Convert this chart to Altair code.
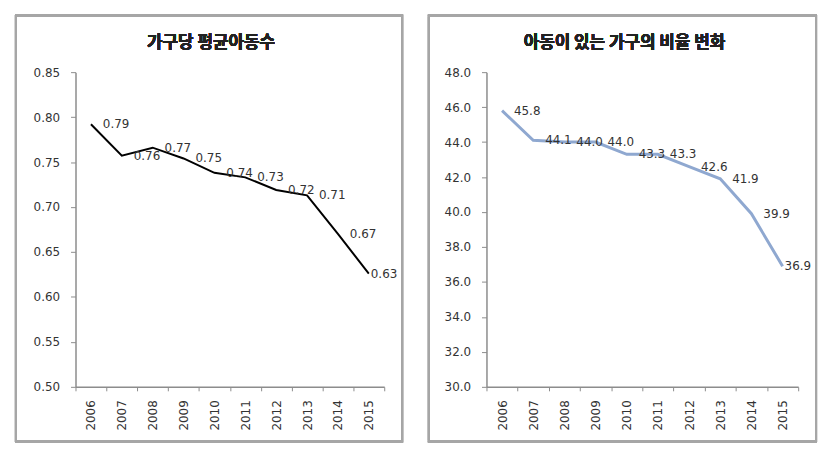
import altair as alt
import pandas as pd

years = ["2006", "2007", "2008", "2009", "2010", "2011", "2012", "2013", "2014", "2015"]
avg_children = [0.792, 0.757, 0.766, 0.754, 0.738, 0.733, 0.719, 0.713, 0.670, 0.626]
share_households = [45.8, 44.1, 44.0, 44.0, 43.3, 43.3, 42.6, 41.9, 39.9, 36.9]
ticks_left = [0.50, 0.55, 0.60, 0.65, 0.70, 0.75, 0.80, 0.85]
ticks_right = [30.0, 32.0, 34.0, 36.0, 38.0, 40.0, 42.0, 44.0, 46.0, 48.0]

title_left = "가구당 평균아동수"
title_right = "아동이 있는 가구의 비율 변화"

FONT = "Noto Sans CJK KR"
NUM = "DejaVu Sans"
AX = "#8c8c8c"
TXT = "#333333"

df1 = pd.DataFrame({"year": years, "v": avg_children})
df2 = pd.DataFrame({"year": years, "v": share_households})


def panel(df, title, ticks, fmt, color, lw, w, h, bx1, bx2):
    x = alt.X("year:N", title=None, sort=years,
              scale=alt.Scale(paddingInner=0, paddingOuter=0),
              axis=alt.Axis(labelAngle=-90, labelFontSize=12, labelColor=TXT, labelFont=NUM,
                            domainColor=AX, domainWidth=1.5, tickColor=AX, tickSize=4,
                            tickBand="extent", labelPadding=9, labelBaseline="middle",
                            labelAlign="right"))
    y = alt.Y("v:Q", title=None,
              scale=alt.Scale(domain=[ticks[0], ticks[-1]], nice=False, zero=False),
              axis=alt.Axis(values=ticks, format=fmt, labelFontSize=12, labelColor=TXT,
                            labelFont=NUM, domainColor=AX, domainWidth=1.5, tickColor=AX,
                            tickSize=5, labelPadding=11, grid=False))
    base = alt.Chart(df).encode(x=x, y=y)
    line = base.mark_line(color=color, strokeWidth=lw)
    lab = base.mark_text(align="left", baseline="middle", dx=12, fontSize=12, font=NUM,
                         color=TXT).encode(text=alt.Text("v:Q", format=fmt)).transform_filter(
        alt.datum.year != "2015")
    lab_last = base.mark_text(align="left", baseline="middle", dx=2, fontSize=12, font=NUM,
                              color=TXT).encode(text=alt.Text("v:Q", format=fmt)).transform_filter(
        alt.datum.year == "2015")
    border = alt.Chart(df).mark_rect(filled=False, stroke="#a6a6a6", strokeWidth=2, clip=False).encode(
        x=alt.value(bx1), x2=alt.value(w + bx2), y=alt.value(-57), y2=alt.value(h + 55))
    ttl = alt.Chart(df).mark_text(fontSize=17, fontWeight="bold", font=FONT, color="#222222",
                                  baseline="middle", align="center").encode(
        x=alt.value((bx1 + w + bx2) / 2.0 + 2), y=alt.value(-29), text=alt.value(title))
    return alt.layer(border, ttl, line, lab, lab_last).properties(width=w, height=h)


left = panel(df1, title_left, ticks_left, ".2f", "#000000", 2, 311, 317, -60, 18)
right = panel(df2, title_right, ticks_right, ".1f", "#8fa8d0", 3, 314, 317, -58, 18)

chart = alt.hconcat(left, right, spacing=25).configure_view(stroke=None).properties(
    padding={"left": 7, "top": 5, "right": 5, "bottom": 5})

chart.save("out.html", embed_options={"renderer": "svg", "actions": False})
